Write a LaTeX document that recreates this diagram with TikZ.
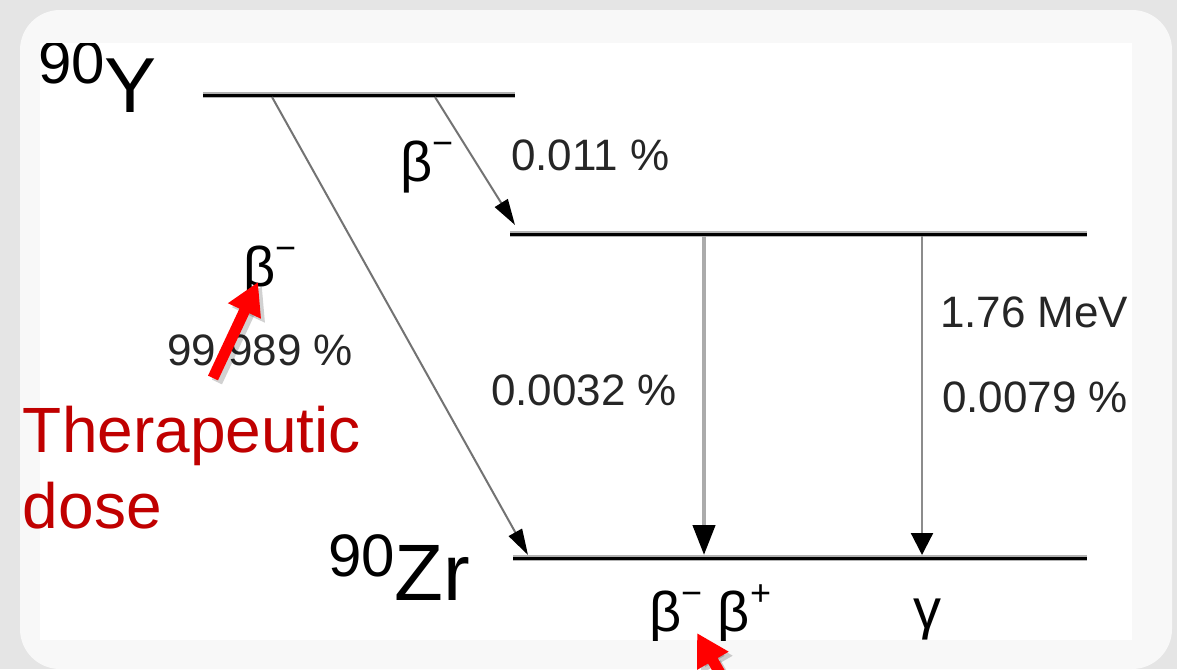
\documentclass[tikz,border=0pt]{standalone}
\usepackage{fontspec}
\setmainfont{Liberation Sans}
\usetikzlibrary{arrows.meta, positioning}
\definecolor{slBack}{RGB}{229,229,229}
\definecolor{slPanel}{RGB}{248,248,248}
\definecolor{slRed}{RGB}{192,0,0}
\definecolor{slArrow}{RGB}{255,0,0}
\newcommand{\chargeup}[1]{\raisebox{13pt}{\fontsize{18}{18}\selectfont #1}}

\begin{document}
\begin{tikzpicture}[
  x=0.5pt, y=-0.5pt,
  every node/.style={inner sep=0pt, outer sep=0pt},
  level/.style={draw=black, line width=1.5pt, preaction={draw=black!30, line width=2.6pt}},
  decay/.style={draw=black!55, line width=1pt, -{Triangle[length=13pt, width=7.5pt, color=black]}},
  decayW/.style={draw=black!33, line width=2.2pt, -{Triangle[length=15pt, width=11pt, color=black]}},
  decayG/.style={draw=black!45, line width=1.1pt, -{Triangle[length=11pt, width=11pt, color=black]}},
  pct/.style={anchor=base west, font=\fontsize{22}{22}\selectfont, text=black!85},
  greek/.style={anchor=base west, font=\fontsize{28}{28}\selectfont},
  nuclide/.style={anchor=base west},
  note/.style={anchor=base west, text=slRed, font=\fontsize{32}{32}\selectfont},
  pointer/.style={draw=slArrow, line width=5.5pt, -{Triangle[length=16pt, width=17pt]}},
  pointershade/.style={draw=black, opacity=0.18, line width=5.5pt, -{Triangle[length=16pt, width=17pt]}},
]
\clip (0,0) rectangle (1177,669);

% --- Slide background -------------------------------------------------------
\fill[slBack] (0,0) rectangle (1177,669);
\fill[slPanel, rounded corners=20pt] (20,10) rectangle (1172,669);
\fill[white] (40,43) rectangle (1132,640);

\begin{scope}
\clip (40,43) rectangle (1132,640);

% --- Energy levels ----------------------------------------------------------
\coordinate (yL) at (203,95);
\coordinate (yR) at (515,95);
\coordinate (mL) at (510,234);
\coordinate (mR) at (1087,234);
\coordinate (zL) at (513,558);
\coordinate (zR) at (1087,558);
\foreach \a/\b in {yL/yR, mL/mR, zL/zR}
  \draw[level] (\a) -- (\b);

\node[nuclide] (yLbl)  at (38,112)  {\raisebox{14.5pt}{\fontsize{30}{30}\selectfont 90}\fontsize{39}{39}\selectfont Y};
\node[nuclide] (zrLbl) at (328,600) {\raisebox{12pt}{\fontsize{30}{30}\selectfont 90}\fontsize{40}{40}\selectfont Zr};

% --- Decay branches ---------------------------------------------------------
\coordinate (d1s) at (272,97);
\coordinate (d1e) at (528,555);
\coordinate (d2s) at (435,97);
\coordinate (d2e) at (515,225);
\coordinate (d3s) at (704,236);
\coordinate (d3e) at (704,555);
\coordinate (d4s) at (922,236);
\coordinate (d4e) at (922,555);
\draw[decay]  (d1s) -- (d1e);
\draw[decay]  (d2s) -- (d2e);
\draw[decayW] (d3s) -- (d3e);
\draw[decayG] (d4s) -- (d4e);

% --- Branch labels ----------------------------------------------------------
\node[greek] (bUpper)  at (400,181) {β\chargeup{−}};
\node[greek] (bMain)   at (243,286) {β\chargeup{−}};
\node[greek] (bBottom) at (649,631) {β\chargeup{−} β\chargeup{+}};
\node[greek] (gam)     at (913,628) {γ};

\node[pct] (pBr)   at (511,170) {0.011 \%};
\node[pct] (pMain) at (167,365) {99.989 \%};
\node[pct] (pMid)  at (491,405) {0.0032 \%};
\node[pct] (eGam)  at (940,327) {1.76 MeV};
\node[pct] (pGam)  at (942,412) {0.0079 \%};
\end{scope}

% --- Annotation ---------------------------------------------------------------
\node[note] (thera) at (23,452) {Therapeutic};
\node[note] (dose)  at (23,528) {dose};

\coordinate (tailA) at (213,378);
\coordinate (tipA)  at (258,282);
\coordinate (tailB) at (748,722);
\coordinate (tipB)  at (697,633);
\foreach \s/\t in {tailA/tipA, tailB/tipB} {
  \draw[pointershade] ([shift={(4,4)}]\s) -- ([shift={(4,4)}]\t);
  \draw[pointer] (\s) -- (\t);
}

\end{tikzpicture}
\end{document}
